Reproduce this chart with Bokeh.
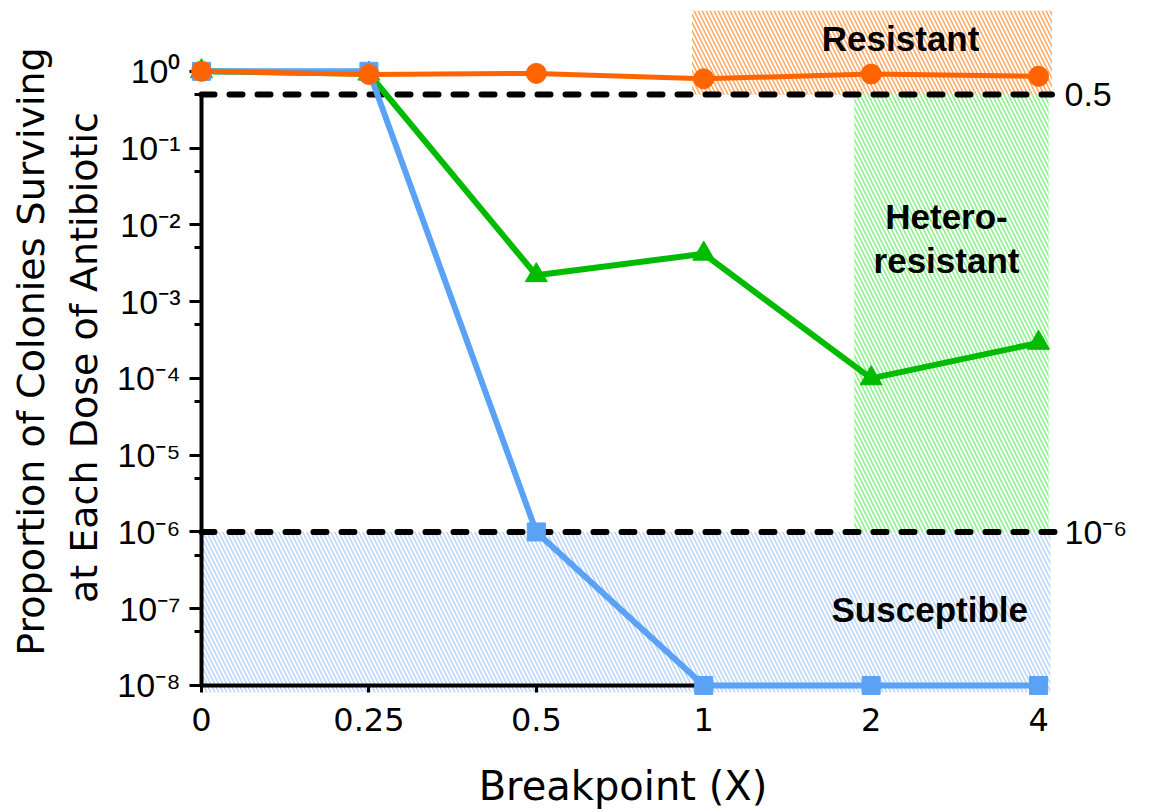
from bokeh.plotting import figure
from bokeh.models import Range1d, FixedTicker, LogAxis, LinearAxis, ColumnDataSource
from bokeh.embed import file_html
from bokeh.resources import INLINE
from bokeh.core.properties import value

# ---------------- data ----------------
doses = ["0", "0.25", "0.5", "1", "2", "4"]
resistant = [1.0, 0.91, 0.94, 0.80, 0.92, 0.86]
heteroresistant = [1.0, 0.93, 2.2e-3, 4.2e-3, 1.0e-4, 2.9e-4]
susceptible = [1.0, 1.0, 1.0e-6, 1.0e-8, 1.0e-8, 1.0e-8]

resistant_cutoff = 0.5
susceptible_cutoff = 1e-6
y_exponents = [0, -1, -2, -3, -4, -5, -6, -7, -8]

zone_names = ["Resistant", "Heteroresistant", "Susceptible"]
zone_left = [2.93, 3.90, 0.0]
zone_right = [5.08, 5.06, 5.07]
zone_bottom = [0.5, 1e-6, 8.1e-9]
zone_top = [6.2, 0.5, 1e-6]
zone_colors = ["#FFAA66", "#8AF28A", "#BCD6F6"]

SUP = str.maketrans("-0123456789", "⁻⁰¹²³⁴⁵⁶⁷⁸⁹")
def sci(e):
    return "10" + str(e).translate(SUP)

xs = list(range(len(doses)))
y_major = [10.0 ** e for e in y_exponents]
y_minor = [5 * 10.0 ** (e - 1) for e in y_exponents[:-1]]

p = figure(width=1151, height=812, y_axis_type="log",
           x_range=Range1d(-0.0956, 5.131), y_range=Range1d(8.1e-9, 6.2),
           output_backend="svg", toolbar_location=None,
           min_border_left=185, min_border_right=91,
           min_border_top=10, min_border_bottom=120)
p.outline_line_color = None
p.xgrid.visible = False
p.ygrid.visible = False
p.background_fill_color = "white"
p.border_fill_color = "white"

# zones
zsrc = ColumnDataSource(dict(left=zone_left, right=zone_right, bottom=zone_bottom,
                             top=zone_top, color=zone_colors))
p.quad(left="left", right="right", bottom="bottom", top="top", source=zsrc,
       fill_color="color", line_color=None, hatch_pattern="\\", hatch_color="white",
       hatch_scale=8, hatch_weight=2)

# zone labels
lab_font = value("Liberation Sans")
p.text(x=[4.176], y=[2.69], text=["Resistant"], text_font=lab_font,
       text_font_style="bold", text_font_size="35px", text_align="center",
       text_baseline="middle", text_color="black")
p.text(x=[4.45, 4.45], y=[1.27e-2, 3.45e-3], text=["Hetero-", "resistant"],
       text_font=lab_font, text_font_style="bold", text_font_size="35px",
       text_align="center", text_baseline="middle", text_color="black")
p.text(x=[4.35], y=[9.9e-8], text=["Susceptible"], text_font=lab_font,
       text_font_style="bold", text_font_size="35px", text_align="center",
       text_baseline="middle", text_color="black")

# cutoff dashed lines
p.segment(x0=[0, 0], x1=[zone_right[0], 5.11],
          y0=[resistant_cutoff, susceptible_cutoff],
          y1=[resistant_cutoff, susceptible_cutoff],
          line_color="black", line_width=6, line_dash="13 15", line_cap="round")

# series
green = "#00BB00"
blue = "#5AA2F5"
orange = "#FF6400"
for ys, col, mk, sz, lw in [(heteroresistant, green, "triangle", 22, 6),
                            (susceptible, blue, "square", 18, 6),
                            (resistant, orange, "circle", 20, 5)]:
    r = p.line(xs, ys, line_color=col, line_width=lw)
    r.level = "overlay"
    r = p.scatter(xs, ys, marker=mk, size=sz, fill_color=col, line_color=col)
    r.level = "overlay"

# ---- left axis: labels only (at frame edge)
ya = p.yaxis[0]
ya.ticker = FixedTicker(ticks=y_major, minor_ticks=[])
ya.major_label_overrides = {v: sci(e) for v, e in zip(y_major, y_exponents)}
ya.axis_line_color = None
ya.major_tick_line_color = None
ya.minor_tick_line_color = None
ya.major_tick_out = 0
ya.major_tick_in = 0
ya.major_label_text_font = "Liberation Sans"
ya.major_label_text_font_size = "34px"
ya.major_label_text_color = "black"
ya.major_label_standoff = 5
ya.axis_label = "Proportion of Colonies Surviving\nat Each Dose of  Antibiotic"
ya.axis_label_text_font = "DejaVu Sans"
ya.axis_label_text_font_size = "38px"
ya.axis_label_text_font_style = "normal"
ya.axis_label_text_color = "black"
ya.axis_label_standoff = 8

# ---- bottom axis: labels only (at frame edge)
xa = p.xaxis[0]
xa.ticker = FixedTicker(ticks=xs, minor_ticks=[])
xa.major_label_overrides = {i: d for i, d in zip(xs, doses)}
xa.axis_line_color = None
xa.major_tick_line_color = None
xa.minor_tick_line_color = None
xa.major_tick_out = 0
xa.major_tick_in = 0
xa.major_label_text_font = "DejaVu Sans"
xa.major_label_text_font_size = "32px"
xa.major_label_text_color = "black"
xa.major_label_standoff = 15
xa.axis_label = "Breakpoint (X)"
xa.axis_label_text_font = "DejaVu Sans"
xa.axis_label_text_font_size = "40px"
xa.axis_label_text_font_style = "normal"
xa.axis_label_text_color = "black"
xa.axis_label_standoff = 29

# ---- right axis with cutoff labels
ra = LogAxis(ticker=FixedTicker(ticks=[resistant_cutoff, susceptible_cutoff], minor_ticks=[]),
             major_label_overrides={resistant_cutoff: "0.5", susceptible_cutoff: sci(-6)},
             axis_line_color=None, major_tick_line_color=None, minor_tick_line_color=None,
             major_tick_out=0, major_tick_in=0,
             major_label_standoff=4, major_label_text_font="Liberation Sans",
             major_label_text_font_size="34px", major_label_text_color="black")
p.add_layout(ra, "right")

# ---- axis lines and ticks, placed at x = 0 and y = 1e-8
y_line = LogAxis(fixed_location=0, bounds=(1e-8, resistant_cutoff),
                 ticker=FixedTicker(ticks=y_major, minor_ticks=y_minor),
                 major_label_overrides={v: "" for v in y_major},
                 major_label_text_font_size="0px", major_label_standoff=0,
                 axis_line_width=4, axis_line_color="black",
                 major_tick_line_width=3, minor_tick_line_width=3,
                 major_tick_in=12, major_tick_out=0, minor_tick_in=7, minor_tick_out=0)
p.add_layout(y_line, "right")

x_line = LinearAxis(fixed_location=1e-8, bounds=(0, 5),
                    ticker=FixedTicker(ticks=xs, minor_ticks=[]),
                    major_label_overrides={i: "" for i in xs},
                    major_label_text_font_size="0px", major_label_standoff=0,
                    axis_line_width=4, axis_line_color="black",
                    major_tick_line_width=3, minor_tick_line_color=None,
                    major_tick_in=8, major_tick_out=0)
p.add_layout(x_line, "above")

open("out.html", "w").write(file_html(p, INLINE))
